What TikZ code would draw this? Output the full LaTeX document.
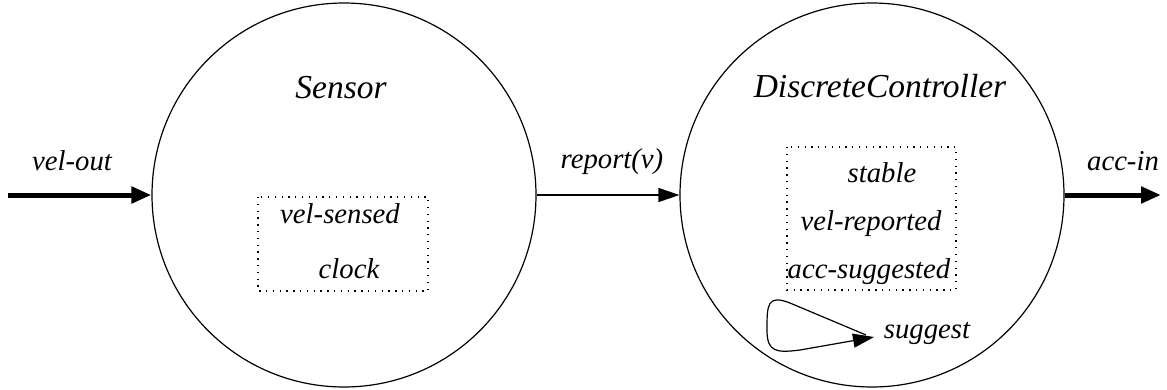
\documentclass[tikz,border=0pt]{standalone}
\usepackage{fontspec}
\setmainfont{Liberation Serif}[ItalicFont={Liberation Serif Italic}]
\usetikzlibrary{arrows.meta}

\tikzset{
  proc/.style={draw, circle, line width=1.2pt, minimum size=384pt, inner sep=0pt},
  lbl/.style={inner sep=0pt, anchor=base, font=\fontsize{28.7}{32}\selectfont\itshape},
  proclbl/.style={inner sep=0pt, anchor=base, font=\fontsize{33.5}{38}\selectfont\itshape},
  varbox/.style={draw, line width=1.2pt, dash pattern=on 1.3pt off 5.5pt},
  bigarrow/.style={line width=5pt, -{Triangle[length=20pt, width=16pt]}},
  thinarrow/.style={line width=1.2pt, -{Triangle[length=21pt, width=14pt]}}
}

\begin{document}
\begin{tikzpicture}[x=1pt, y=-1pt]
\useasboundingbox (0,0) rectangle (1167,389);
% the two processes
\node[proc] (sensor) at (344,195) {};
\node[proc] (ctrl) at (872,195) {};
\node[proclbl] (sensorname) at (341,98) {Sensor};
\node[proclbl] (ctrlname) at (880,97) {DiscreteController};
% state variables
\draw[varbox] (258,197) rectangle (428,291);
\node[lbl] (velsensed) at (340,223) {vel-sensed};
\node[lbl] (clock) at (349,278) {clock};
\draw[varbox] (787,147) rectangle (956,290);
\node[lbl] (stable) at (882,182) {stable};
\node[lbl] (velrep) at (871,230) {vel-reported};
\node[lbl] (accsug) at (869,278) {acc-suggested};
% internal action
\coordinate (loopstart) at (866,335);
\coordinate (loopend) at (874,337);
\draw[thinarrow] (loopstart) -- (790,303) .. controls (767,294) and (767,305) .. (767,330)
  .. controls (767,352) and (776,353) .. (800,350) -- (loopend);
\node[lbl] (suggest) at (927,338) {suggest};
% external actions
\coordinate (velsrc) at (8,195);
\coordinate (accdst) at (1161,195);
\draw[bigarrow] (velsrc) -- (sensor.west);
\node[lbl] (velout) at (72,170) {vel-out};
\draw[thinarrow] (sensor.east) -- (ctrl.west);
\node[lbl] (report) at (612,168) {report(v)};
\draw[bigarrow] (ctrl.east) -- (accdst);
\node[lbl] (accin) at (1123,170) {acc-in};
\end{tikzpicture}
\end{document}
